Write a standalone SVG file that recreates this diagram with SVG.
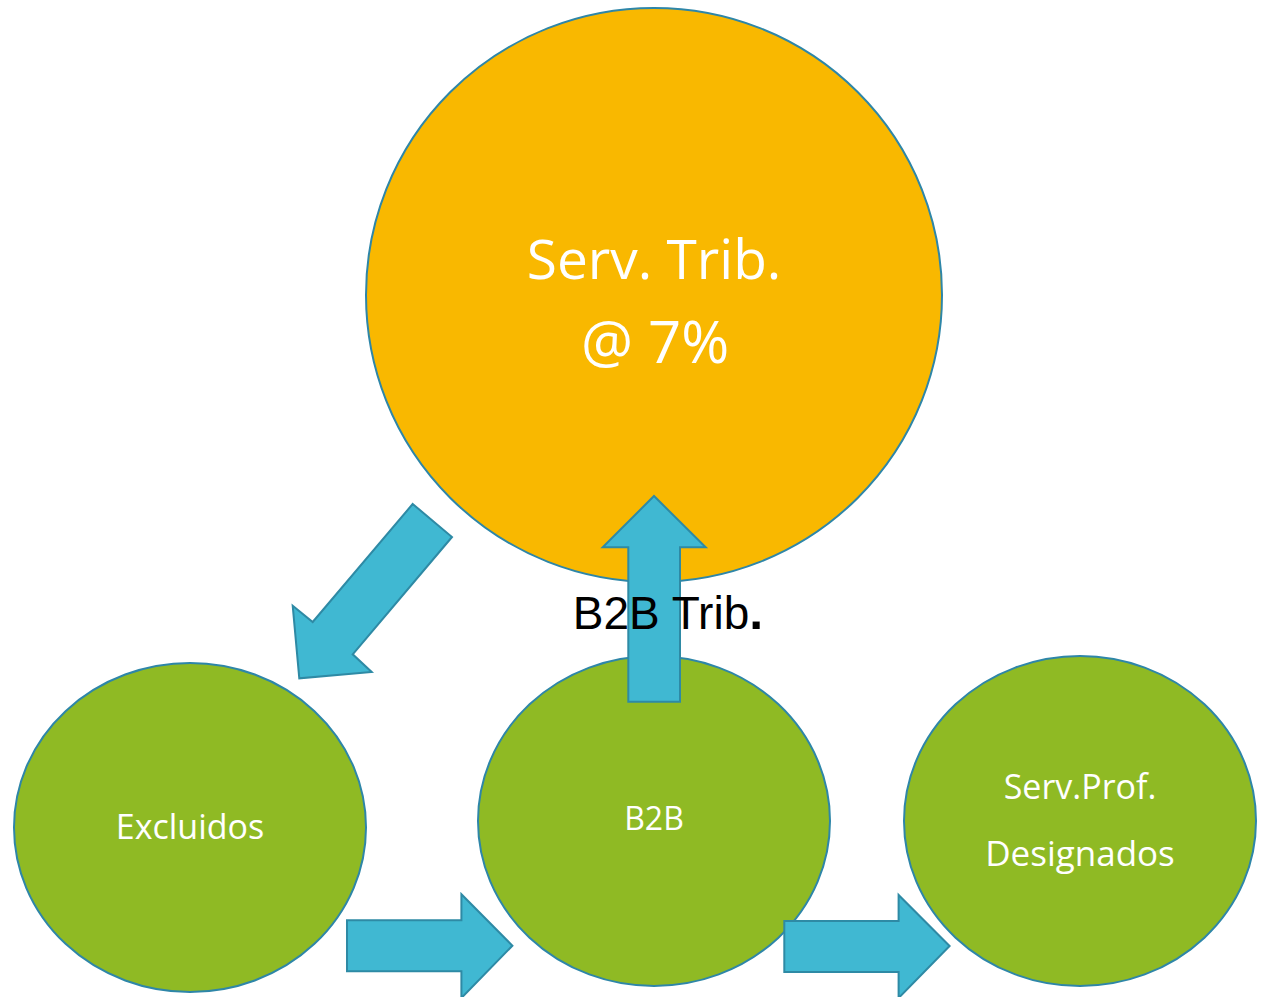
<svg xmlns="http://www.w3.org/2000/svg" width="1267" height="997" viewBox="0 0 1267 997">
<style>
.big{fill:#F9B800;stroke:#2E86A8;stroke-width:2}
.node{fill:#8FBA24;stroke:#2E86A8;stroke-width:2}
.arrow{fill:#40B8D2;stroke:#2E8AA5;stroke-width:2;stroke-linejoin:miter}
.lbl{font-family:"Open Sans","Liberation Sans",sans-serif;fill:#FFFFFF;text-anchor:middle}
.blk{font-family:"Liberation Sans",Arial,sans-serif;fill:#000000;text-anchor:middle}
</style>
<rect width="1267" height="997" fill="#FFFFFF"/>
<g id="serv-trib">
<ellipse class="big" cx="654" cy="295" rx="288" ry="287"/>
<text class="lbl" x="654" y="279" font-size="55">Serv. Trib.</text>
<text class="lbl" x="655" y="363" font-size="58">@ 7%</text>
</g>
<g id="excluidos">
<ellipse class="node" cx="190" cy="827.5" rx="176" ry="164.5"/>
<text class="lbl" x="190" y="839" font-size="34">Excluidos</text>
</g>
<g id="b2b">
<ellipse class="node" cx="654" cy="821" rx="176" ry="165"/>
<text class="lbl" x="654" y="830" font-size="32">B2B</text>
</g>
<g id="serv-prof">
<ellipse class="node" cx="1080" cy="821" rx="176" ry="165"/>
<text class="lbl" x="1080" y="799" font-size="34">Serv.Prof.</text>
<text class="lbl" x="1080" y="866" font-size="35">Designados</text>
</g>
<g id="connectors">
<polygon class="arrow" points="412.7,504 452,537 352.7,654.3 371.7,672 299.3,678.3 292.7,605.7 312.7,622"/>
<polygon class="arrow" points="628.3,701.7 680,701.7 680,547.3 705.7,547.3 654,496 602.7,547.3 628.3,547.3"/>
<polygon class="arrow" points="347,920.3 461.4,920.3 461.4,894.3 512.4,945.7 461.4,998 461.4,971.3 347,971.3"/>
<polygon class="arrow" points="784.3,921 898.6,921 898.6,895 949.6,946 898.6,998 898.6,972 784.3,972"/>
</g>
<g id="b2b-trib-label">
<text class="blk" x="668" y="629" font-size="46">B2B Trib<tspan font-weight="bold" font-size="50">.</tspan></text>
</g>
</svg>
